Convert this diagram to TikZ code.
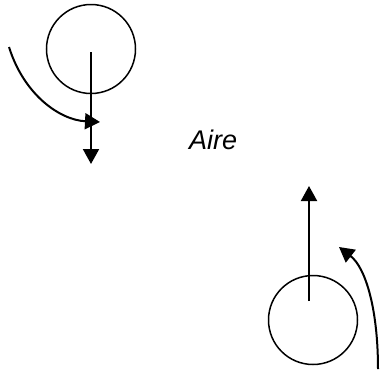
\documentclass[tikz,border=0pt]{standalone}
\usepackage{fontspec}
\setmainfont{Liberation Sans}
\usetikzlibrary{arrows.meta}
\tikzset{
	wheel/.style={draw, circle, line width=1.5pt, minimum size=89pt, inner sep=0pt},
	push/.style={line width=2pt, -{Triangle[length=15pt, width=16pt]}}
}
\begin{document}
\begin{tikzpicture}[x=1pt, y=-1pt, font=\fontsize{27}{32}\selectfont\itshape]
		\useasboundingbox (0,0) rectangle (380,373);
		\node[wheel] (top) at (91,49) {};
		\node[wheel] (bot) at (313,320) {};
		\coordinate (topfrom) at (91,52);
		\coordinate (topto) at (91,164);
		\coordinate (botfrom) at (309,301);
		\coordinate (botto) at (309,186);
		\coordinate (lfrom) at (9,47);
		\coordinate (lto) at (100,122);
		\coordinate (rfrom) at (378,369);
		\coordinate (rto) at (339,247);
		\draw[push] (topfrom) -- (topto);
		\draw[push] (botfrom) -- (botto);
		\draw[push] (lfrom) .. controls (24,95) and (60,120) .. (lto);
		\draw[push] (rfrom) .. controls (378,310) and (366,268) .. (rto);
		\node[anchor=base west, inner sep=0pt] (aire) at (189,149) {Aire};
	\end{tikzpicture}
\end{document}
